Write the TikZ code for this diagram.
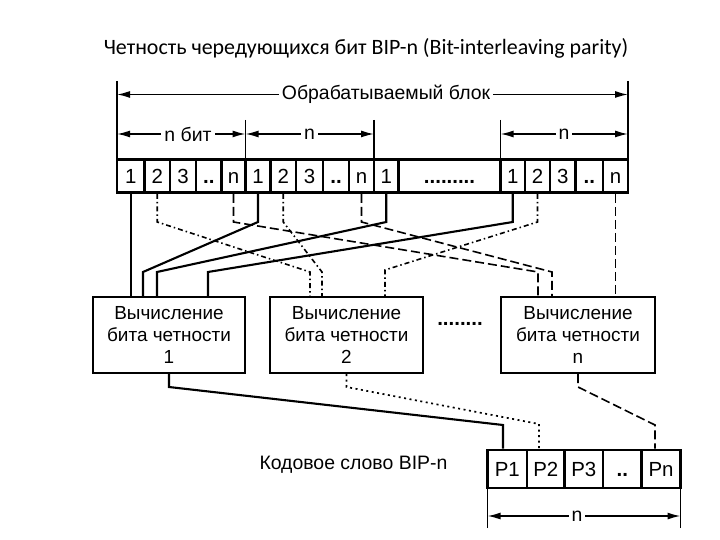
\documentclass[tikz,border=0pt]{standalone}
\usepackage{fontspec}
\setmainfont{Liberation Sans}
\newfontfamily\titlefam{Carlito}
\usetikzlibrary{arrows.meta}
\newcommand\cellfnt{\fontsize{20.5}{20.5}\selectfont}
\newcommand\lblfnt{\fontsize{19.5}{22.5}\selectfont}
\newcommand\boxfnt{\fontsize{19}{22.5}\selectfont}
\tikzset{
  cell/.style={draw, line width=2.7bp, minimum height=33bp, inner sep=0pt, font=\cellfnt},
  pcell/.style={draw, line width=2.7bp, minimum height=38bp, inner sep=0pt, font=\cellfnt},
  pbox/.style={draw, line width=2.3bp, minimum height=76bp, inner sep=0pt, align=center, font=\boxfnt},
  wire/.style={line width=2.1bp},
  dashdot/.style={line width=1.6bp, dash pattern=on 5bp off 3bp on 1.5bp off 3bp},
  dashl/.style={line width=1.6bp, dash pattern=on 9bp off 4bp},
  dotl/.style={line width=1.7bp, dash pattern=on 2bp off 3.5bp},
  extl/.style={line width=1.5bp},
  dim/.style={line width=1.5bp, {Latex[length=13bp,width=7bp]}-{Latex[length=13bp,width=7bp]}},
  lbl/.style={font=\lblfnt, fill=white, inner sep=3bp}
}
\begin{document}
\begin{tikzpicture}[x=1bp,y=-1bp]
\useasboundingbox (0,0) rectangle (720,540);
\fill[white] (0,0) rectangle (720,540);

\node[font=\titlefam\fontsize{22}{22}\selectfont] (title) at (366,48) {Четность чередующихся бит BIP-n (Bit-interleaving parity)};

% cells of the block
\foreach \nm/\l/\r/\t in {a1/117/144.5/1, a2/144.5/170/2, a3/170/196/3, a4/196/221.5/\textbf{..}, a5/221.5/245.5/n,
  b1/245.5/270.5/1, b2/270.5/296/2, b3/296/323/3, b4/323/349/\textbf{..}, b5/349/374/n,
  c1/374/398.5/1, dd/398.5/500.5/\textbf{.........},
  e1/500.5/525/1, e2/525/550/2, e3/550/575.5/3, e4/575.5/603/\textbf{..}, e5/603/628/n}
  \node[cell, minimum width={(\r-\l)*1bp}] (\nm) at ({(\l+\r)/2},176) {\vphantom{1}\t};

% dimension lines on top
\coordinate (tl) at (117,81);
\coordinate (tr) at (628,81);
\coordinate (m1) at (245.5,120);
\coordinate (m2) at (374,120);
\coordinate (m3) at (500.5,120);
\draw[extl] (tl) -- (tl |- a1.north);
\draw[extl] (tr) -- (tr |- e5.north);
\draw[extl] (m1) -- (m1 |- a1.north);
\draw[extl] (m2) -- (m2 |- a1.north);
\draw[extl] (m3) -- (m3 |- a1.north);
\coordinate (y1) at (0,94.5);
\coordinate (y2) at (0,134);
\draw[dim] (tl |- y1) -- (tr |- y1);
\node[lbl] (blk) at (386,94.5) {Обрабатываемый блок};
\draw[dim] (tl |- y2) -- (m1 |- y2);
\node[lbl] (nb) at (188,134) {n бит};
\draw[dim] (m1 |- y2) -- (m2 |- y2);
\node[lbl] (n2) at (309.5,134) {n};
\draw[dim] (m3 |- y2) -- (tr |- y2);
\node[lbl] (n3) at (564,134) {n};

% parity blocks
\node[pbox, minimum width=152bp] (bx1) at (169,335) {Вычисление\\бита четности\\1};
\node[pbox, minimum width=153bp] (bx2) at (346.5,335) {Вычисление\\бита четности\\2};
\node[pbox, minimum width=154bp] (bx3) at (578,335) {Вычисление\\бита четности\\n};
\node[font=\cellfnt] (gap) at (460,324) {\textbf{........}};

% bend levels
\coordinate (yb) at (0,222);

% solid wires (bit 1)
\coordinate (s2) at (143,272);
\coordinate (s3) at (157,272);
\coordinate (s4) at (208,272);
\draw[wire] (a1.south) -- (a1.south |- bx1.north);
\draw[wire] (b1.south) -- (b1.south |- yb) -- (s2) -- (s2 |- bx1.north);
\draw[wire] (c1.south) -- (c1.south |- yb) -- (s3) -- (s3 |- bx1.north);
\draw[wire] (e1.south) -- (e1.south |- yb) -- (s4) -- (s4 |- bx1.north);

% dash-dot wires (bit 2)
\coordinate (t1) at (310,272);
\coordinate (t2) at (322,272);
\coordinate (t3) at (385,270);
\draw[dashdot] (a2.south) -- (a2.south |- yb) -- (t1) -- (t1 |- bx2.north);
\draw[dashdot] (b2.south) -- (b2.south |- yb) -- (t2) -- (t2 |- bx2.north);
\draw[dashdot] (e2.south) -- (e2.south |- yb) -- (t3) -- (t3 |- bx2.north);

% dashed wires (bit n)
\coordinate (d1) at (538,272);
\coordinate (d2) at (552,272);
\draw[dashl] (a5.south) -- (a5.south |- yb) -- (d1) -- (d1 |- bx3.north);
\draw[dashl] (b5.south) -- (b5.south |- yb) -- (d2) -- (d2 |- bx3.north);
\draw[dashl] (e5.south) -- (e5.south |- bx3.north);

% code word
\foreach \nm/\l/\r/\t in {p1/487.5/527/P1, p2/527/564.5/P2, p3/564.5/603/P3, p4/603/641.5/\textbf{..}, p5/641.5/680.5/Pn}
  \node[pcell, minimum width={(\r-\l)*1bp}] (\nm) at ({(\l+\r)/2},469) {\vphantom{P}\t};
\node[font=\lblfnt, anchor=west] (cw) at (256,465) {Кодовое слово BIP-n};

% outputs of blocks
\coordinate (yo) at (0,387);
\coordinate (q1) at (503,425);
\coordinate (q2) at (539,424);
\coordinate (q3) at (655,425);
\draw[wire] (bx1.south) -- (bx1.south |- yo) -- (q1) -- (q1 |- p1.north);
\draw[dotl] (bx2.south) -- (bx2.south |- yo) -- (q2) -- (q2 |- p2.north);
\draw[dashl] (bx3.south) -- (bx3.south |- yo) -- (q3) -- (q3 |- p5.north);

% bottom dimension
\coordinate (bl) at (487.5,528);
\coordinate (br) at (680.5,528);
\coordinate (y3) at (0,516);
\draw[extl] (bl) -- (bl |- p1.south);
\draw[extl] (br) -- (br |- p5.south);
\draw[dim] (bl |- y3) -- (br |- y3);
\node[lbl] (nw) at (577,516) {n};
\end{tikzpicture}
\end{document}
